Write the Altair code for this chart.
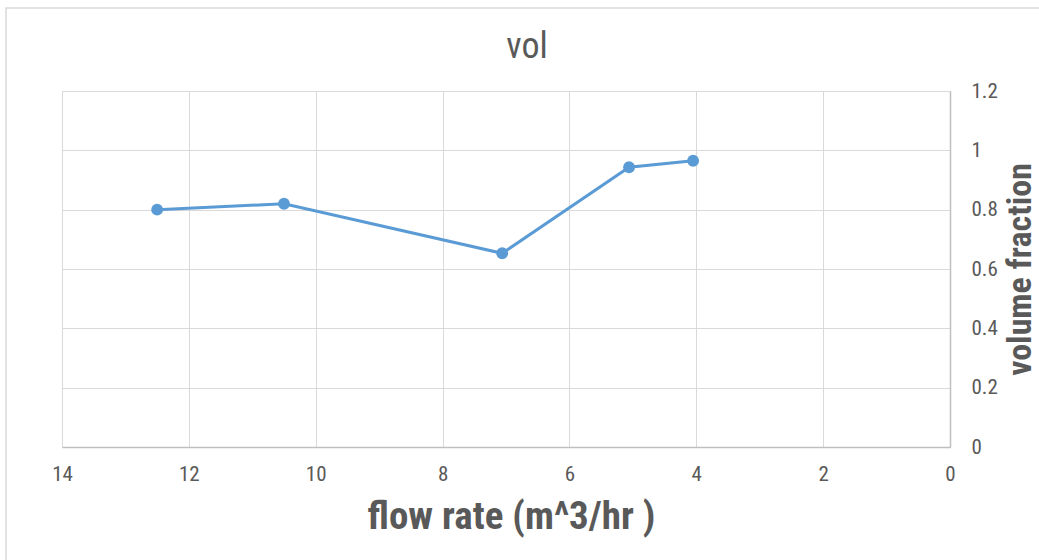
import altair as alt
import pandas as pd

flow_rate = [12.5, 10.5, 7.06, 5.06, 4.05]
volume_fraction = [0.80, 0.82, 0.653, 0.943, 0.965]
x_ticks = [14, 12, 10, 8, 6, 4, 2, 0]
y_ticks = [0, 0.2, 0.4, 0.6, 0.8, 1.0, 1.2]

df = pd.DataFrame({"flow": flow_rate, "vf": volume_fraction})

narrow = "Liberation Sans Narrow, Roboto Condensed, Arial Narrow, Roboto, sans-serif"
grey = "#595959"

base = alt.Chart(df)

frame = alt.Chart(pd.DataFrame({"k": [0]})).mark_rect(
    fill=None, stroke="#D9D9D9", strokeWidth=1.5
).encode(x=alt.value(-56), x2=alt.value(1100), y=alt.value(-83), y2=alt.value(600))

line = base.mark_line(color="#5B9BD5", strokeWidth=3).encode(
    x=alt.X("flow:Q",
            scale=alt.Scale(domain=[0, 14], reverse=True, nice=False, zero=False),
            axis=alt.Axis(values=x_ticks, format="d", title="flow rate (m^3/hr )",
                          grid=True, gridColor="#D9D9D9", gridWidth=1,
                          domain=True, domainColor="#BFBFBF", domainWidth=1.5,
                          ticks=False, labelPadding=16, labelFontSize=21,
                          labelFlush=False,
                          labelColor=grey, labelFont=narrow,
                          titleFont=narrow, titleFontSize=39, titleFontWeight="bold",
                          titleColor=grey, titleBaseline="alphabetic",
                          titleY=81, titleX=449)),
    y=alt.Y("vf:Q",
            scale=alt.Scale(domain=[0, 1.2], nice=False),
            axis=alt.Axis(orient="right", values=y_ticks, format="~g",
                          title="volume fraction",
                          grid=True, gridColor="#D9D9D9", gridWidth=1,
                          domain=True, domainColor="#BFBFBF", domainWidth=1.5,
                          ticks=False, labelPadding=21, labelFontSize=21,
                          labelFlush=False,
                          labelAlign="left", labelColor=grey, labelFont=narrow,
                          titleFont=narrow, titleFontSize=34, titleFontWeight="bold",
                          titleColor=grey, titleAngle=270, titleBaseline="middle",
                          titleAlign="center", titleX=70, titleY=178)),
)

points = base.mark_point(filled=True, color="#5B9BD5", size=140, opacity=1).encode(
    x="flow:Q", y="vf:Q"
)

chart = (frame + line + points).properties(
    width=888,
    height=356,
    title=alt.TitleParams("vol", font=narrow, fontSize=36, fontWeight="normal",
                          color=grey, offset=20, anchor="middle", dy=107, dx=21,
                          baseline="alphabetic"),
    autosize=alt.AutoSizeParams(type="none"),
    padding={"left": 62, "top": 91, "right": 89, "bottom": 113},
).configure_view(stroke=None).configure(background="white")

chart.save("out.html", embed_options={"renderer": "svg", "actions": False})
